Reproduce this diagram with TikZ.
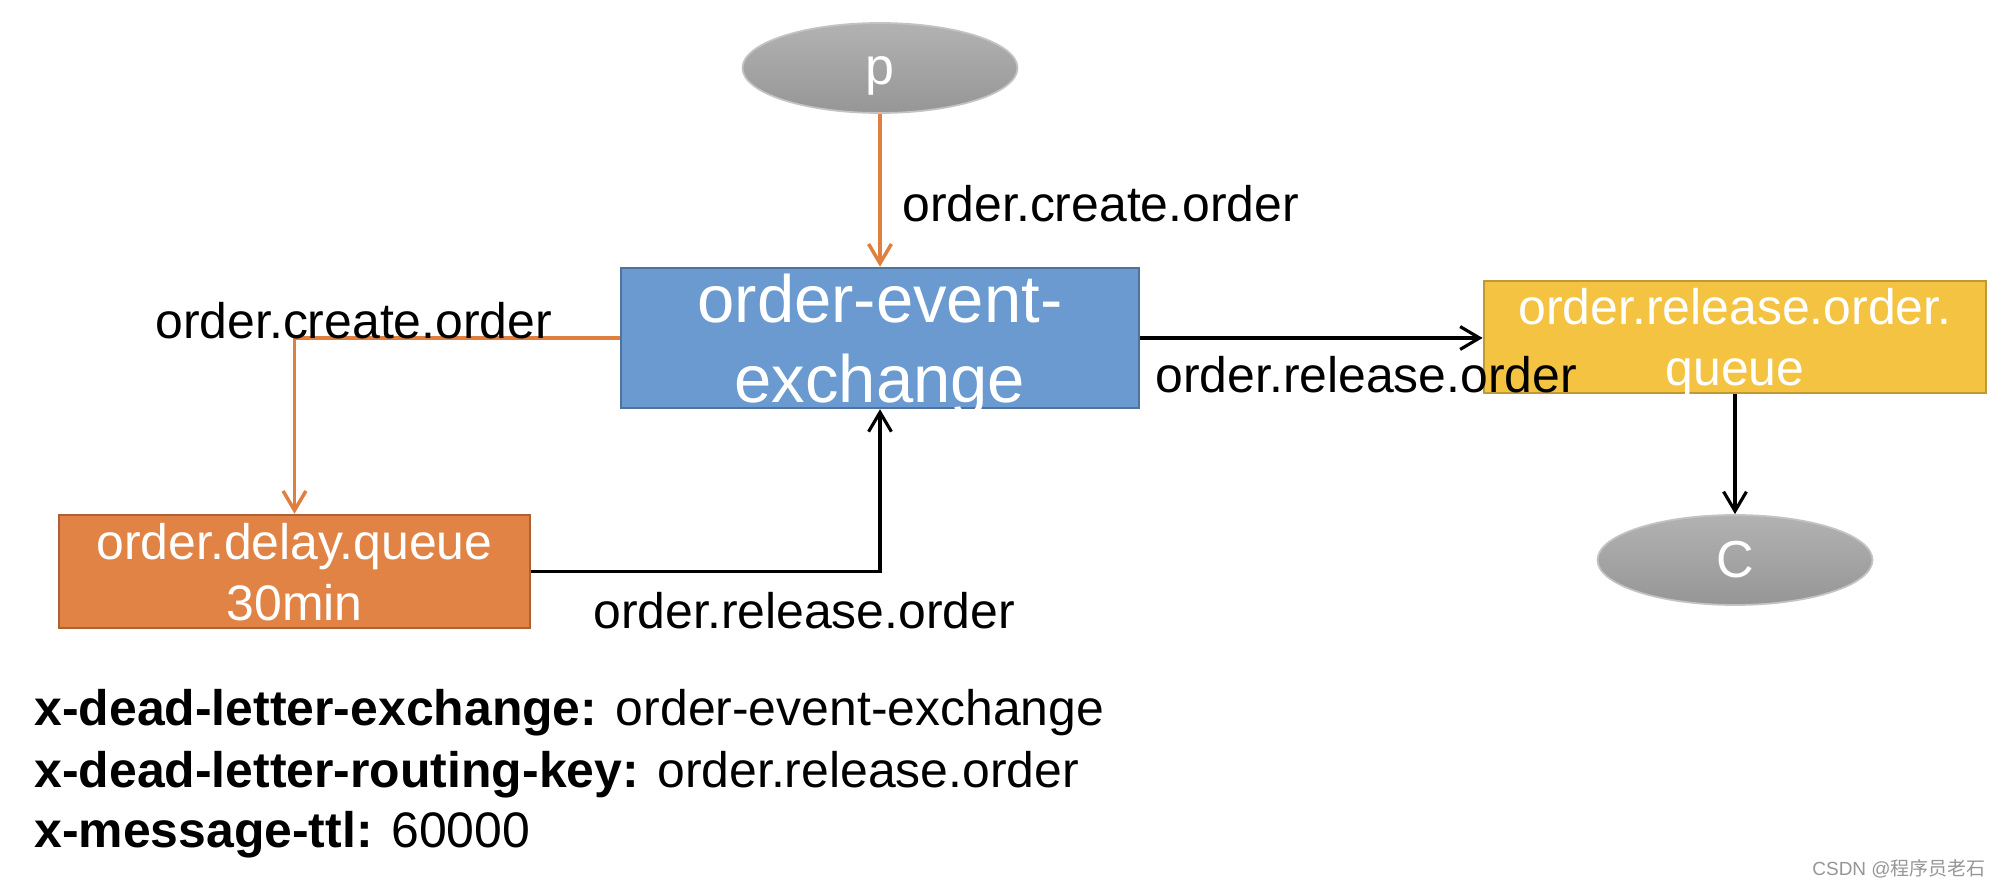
\documentclass[tikz,border=0pt]{standalone}
\usepackage{fontspec}
\setmainfont{Liberation Sans}
\newfontfamily\cjk{Noto Sans CJK SC}
\usetikzlibrary{shapes.geometric,arrows.meta}

\definecolor{exchfill}{RGB}{106,154,207}
\definecolor{exchline}{RGB}{79,114,158}
\definecolor{delayfill}{RGB}{224,131,69}
\definecolor{delayline}{RGB}{172,98,52}
\definecolor{relfill}{RGB}{244,195,66}
\definecolor{relline}{RGB}{192,152,52}
\definecolor{keyorange}{RGB}{224,128,64}

\begin{document}
\begin{tikzpicture}[thick,
	boxtext/.style={text=white, align=center, text depth=0pt, inner sep=0pt},
	client/.style={ellipse, minimum width=2.75cm, minimum height=0.9cm, inner sep=0pt,
		top color={rgb,255:red,178;green,178;blue,178}, bottom color={rgb,255:red,150;green,150;blue,150},
		draw={rgb,255:red,195;green,195;blue,195}, line width=0.5pt, text=white,
		font=\fontsize{14.8pt}{17pt}\selectfont},
	keylabel/.style={anchor=base west, inner sep=0pt, font=\fontsize{14.2pt}{17pt}\selectfont},
	route/.style={-{Straight Barb[length=5.5pt,width=6.5pt]}, line width=0.9pt},
	orangeroute/.style={route, draw=keyorange, line width=1pt}]

	\useasboundingbox (0,0) rectangle (20.03,8.86);

	\node [client, text height=0.34cm, text depth=0pt] (prod) at (8.80,8.18) {p};
	\node [client] (cons) at (17.35,3.26) {C};

	\node [boxtext, draw=exchline, fill=exchfill, line width=0.7pt, minimum width=5.18cm, minimum height=1.40cm,
		font=\fontsize{19.06pt}{22.76pt}\selectfont] (exch) at (8.80,5.48) {order-event-\\exchange};
	\node [boxtext, draw=delayline, fill=delayfill, line width=0.7pt, minimum width=4.71cm, minimum height=1.13cm,
		font=\fontsize{14.2pt}{17.36pt}\selectfont] (delayq) at (2.945,3.145) {order.delay.queue\\30min};
	\node [boxtext, draw=relline, fill=relfill, line width=0.8pt, minimum width=5.02cm, minimum height=1.12cm,
		font=\fontsize{14.2pt}{17.36pt}\selectfont] (relq) at (17.35,5.49) {order.release.order.\\queue};

	% routing keys
	\draw [orangeroute] (prod) -- (exch);
	\node [keylabel] (keytop) at (9.01,6.64) {order.create.order};

	\draw [orangeroute] (exch.west) -| (delayq);
	\node [keylabel] (keyleft) at (1.54,5.47) {order.create.order};

	\draw [route] (delayq.east) -| (exch);
	\node [keylabel] (keybottom) at (5.92,2.57) {order.release.order};

	\draw [route] (exch.east) -- (exch.east -| relq.west);
	\node [keylabel] (keyright) at (11.54,4.93) {order.release.order};

	\draw [route] (relq) -- (cons);

	% queue arguments
	\node [keylabel] (arg1) at (0.33,1.60) {\textbf{x-dead-letter-exchange:} order-event-exchange};
	\node [keylabel] (arg2) at (0.33,0.98) {\textbf{x-dead-letter-routing-key:} order.release.order};
	\node [keylabel] (arg3) at (0.33,0.38) {\textbf{x-message-ttl:} 60000};

	\node [anchor=base east, inner sep=0pt, text={rgb,255:red,150;green,150;blue,150},
		font=\fontsize{5.4pt}{6pt}\selectfont] (mark) at (19.87,0.10) {CSDN @{\cjk 程序员老石}};

\end{tikzpicture}
\end{document}
